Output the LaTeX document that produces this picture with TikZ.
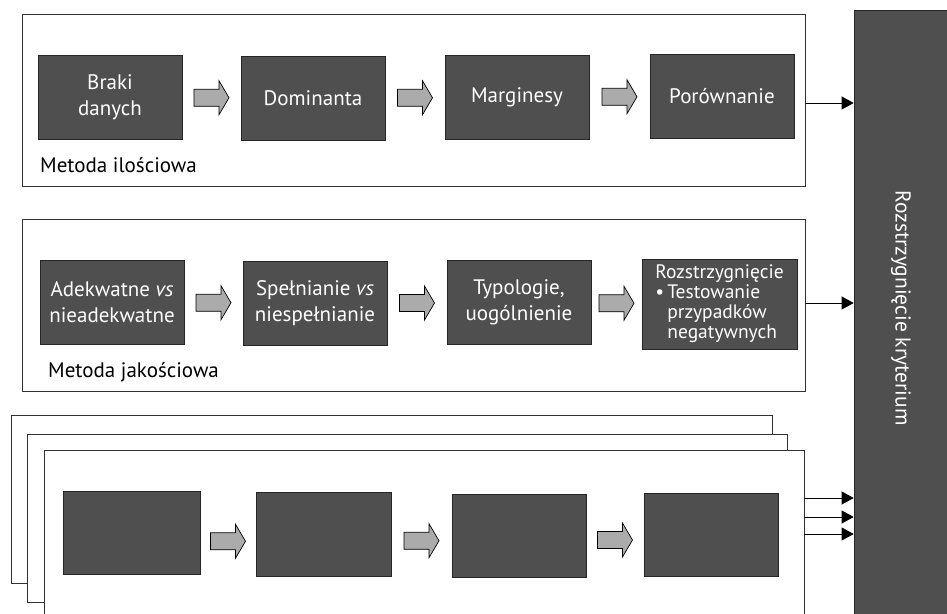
\documentclass[tikz,border=0pt]{standalone}
\usepackage{fontspec}
\setmainfont{PT Sans}
\usetikzlibrary{arrows.meta,calc}
\definecolor{boxgray}{HTML}{4F4F4F}
\definecolor{arrowgray}{HTML}{ABABAB}
\definecolor{framegray}{HTML}{333333}
\tikzset{
  panel/.style={draw=framegray, fill=white, line width=0.9pt, inner sep=0pt},
  stepbox/.style={draw=black!85, fill=boxgray, line width=0.7pt, text=white, align=center,
    inner sep=0pt, minimum width=144pt, minimum height=84pt,
    font=\fontsize{21}{26}\selectfont},
  plabel/.style={anchor=west, inner sep=0pt, font=\fontsize{21}{26}\selectfont},
  blockarr/.style={draw=black, fill=arrowgray, line width=0.7pt, line join=miter,
    to path={($(\tikztostart)!.5!(\tikztotarget)$) +(-17.5,-8.5) -- +(7.5,-8.5) -- +(7.5,-17)
      -- +(17.5,0) -- +(7.5,17) -- +(7.5,8.5) -- +(-17.5,8.5) -- cycle}},
  conn/.style={draw=black, line width=0.8pt, -{Triangle[length=12pt,width=13pt]}}
}
\begin{document}
\begin{tikzpicture}[x=1pt,y=-1pt]
\useasboundingbox (0,0) rectangle (947,613);
\clip (0,0) rectangle (947,613);
% big box
\node[draw=black!85, fill=boxgray, line width=0.7pt, inner sep=0pt, minimum width=94pt,
  minimum height=604pt] (big) at (901,312) {};
\node[text=white, rotate=-90, font=\fontsize{21.5}{26}\selectfont] (bigt) at (901,308) {Rozstrzygnięcie kryterium};
% panel 1
\node[panel, minimum width=783pt, minimum height=172pt] (p1) at (413.5,100) {};
\node[stepbox] (b11) at (110,97) {Braki\\danych};
\node[stepbox] (b12) at (313,98.5) {Dominanta};
\node[stepbox] (b13) at (517,97) {Marginesy};
\node[stepbox] (b14) at (722,96.5) {Porównanie};
\draw[blockarr] (b11.east) to (b12.west);
\draw[blockarr] (b12.east) to (b13.west);
\draw[blockarr] (b13.east) to (b14.west);
\node[plabel] (l1) at (40,165) {Metoda ilościowa};
\draw[conn] (p1.east |- 0,103) -- (big.west |- 0,103);
% panel 2
\node[panel, minimum width=783pt, minimum height=172pt] (p2) at (413.5,305) {};
\node[stepbox] (b21) at (112,302) {Adekwatne \textit{vs}\\nieadekwatne};
\node[stepbox] (b22) at (315,303.5) {Spełnianie \textit{vs}\\niespełnianie};
\node[stepbox] (b23) at (519,302.5) {Typologie,\\uogólnienie};
\node[stepbox, minimum width=155pt, minimum height=90pt, align=left,
  font=\fontsize{19.5}{20}\selectfont] (b24) at (719.5,304)
  {Rozstrzygnięcie\\\textbullet\,Testowanie\\\phantom{\textbullet\,}przypadków\\\phantom{\textbullet\,}negatywnych};
\draw[blockarr] (b21.east) to (b22.west);
\draw[blockarr] (b22.east) to (b23.west);
\draw[blockarr] (b23.east) to (b24.west);
\node[plabel] (l2) at (48,372) {Metoda jakościowa};
\draw[conn] (p2.east |- 0,303) -- (big.west |- 0,303);
% panel 3 stack
\draw[panel] (11,415) rectangle (772,583);
\draw[panel] (27,434) rectangle (787,602);
\node[panel, minimum width=760pt, minimum height=180pt] (p3) at (424,540) {};
\node[stepbox, minimum width=137pt, minimum height=83pt] (b31) at (131.5,532.5) {};
\node[stepbox, minimum width=135pt, minimum height=84pt] (b32) at (323.5,534) {};
\node[stepbox, minimum width=134pt, minimum height=83pt] (b33) at (519,535.5) {};
\node[stepbox, minimum width=134pt, minimum height=83pt] (b34) at (711,534.5) {};
\draw[blockarr] ([yshift=-8pt]b31.east) to ([yshift=-8pt]b32.west);
\draw[blockarr] ([yshift=-6pt]b32.east) to ([yshift=-6pt]b33.west);
\draw[blockarr] ([yshift=-5pt]b33.east) to ([yshift=-5pt]b34.west);
\draw[conn] (p3.east |- 0,498) -- (big.west |- 0,498);
\draw[conn] (p3.east |- 0,517) -- (big.west |- 0,517);
\draw[conn] (p3.east |- 0,534) -- (big.west |- 0,534);
\end{tikzpicture}
\end{document}
